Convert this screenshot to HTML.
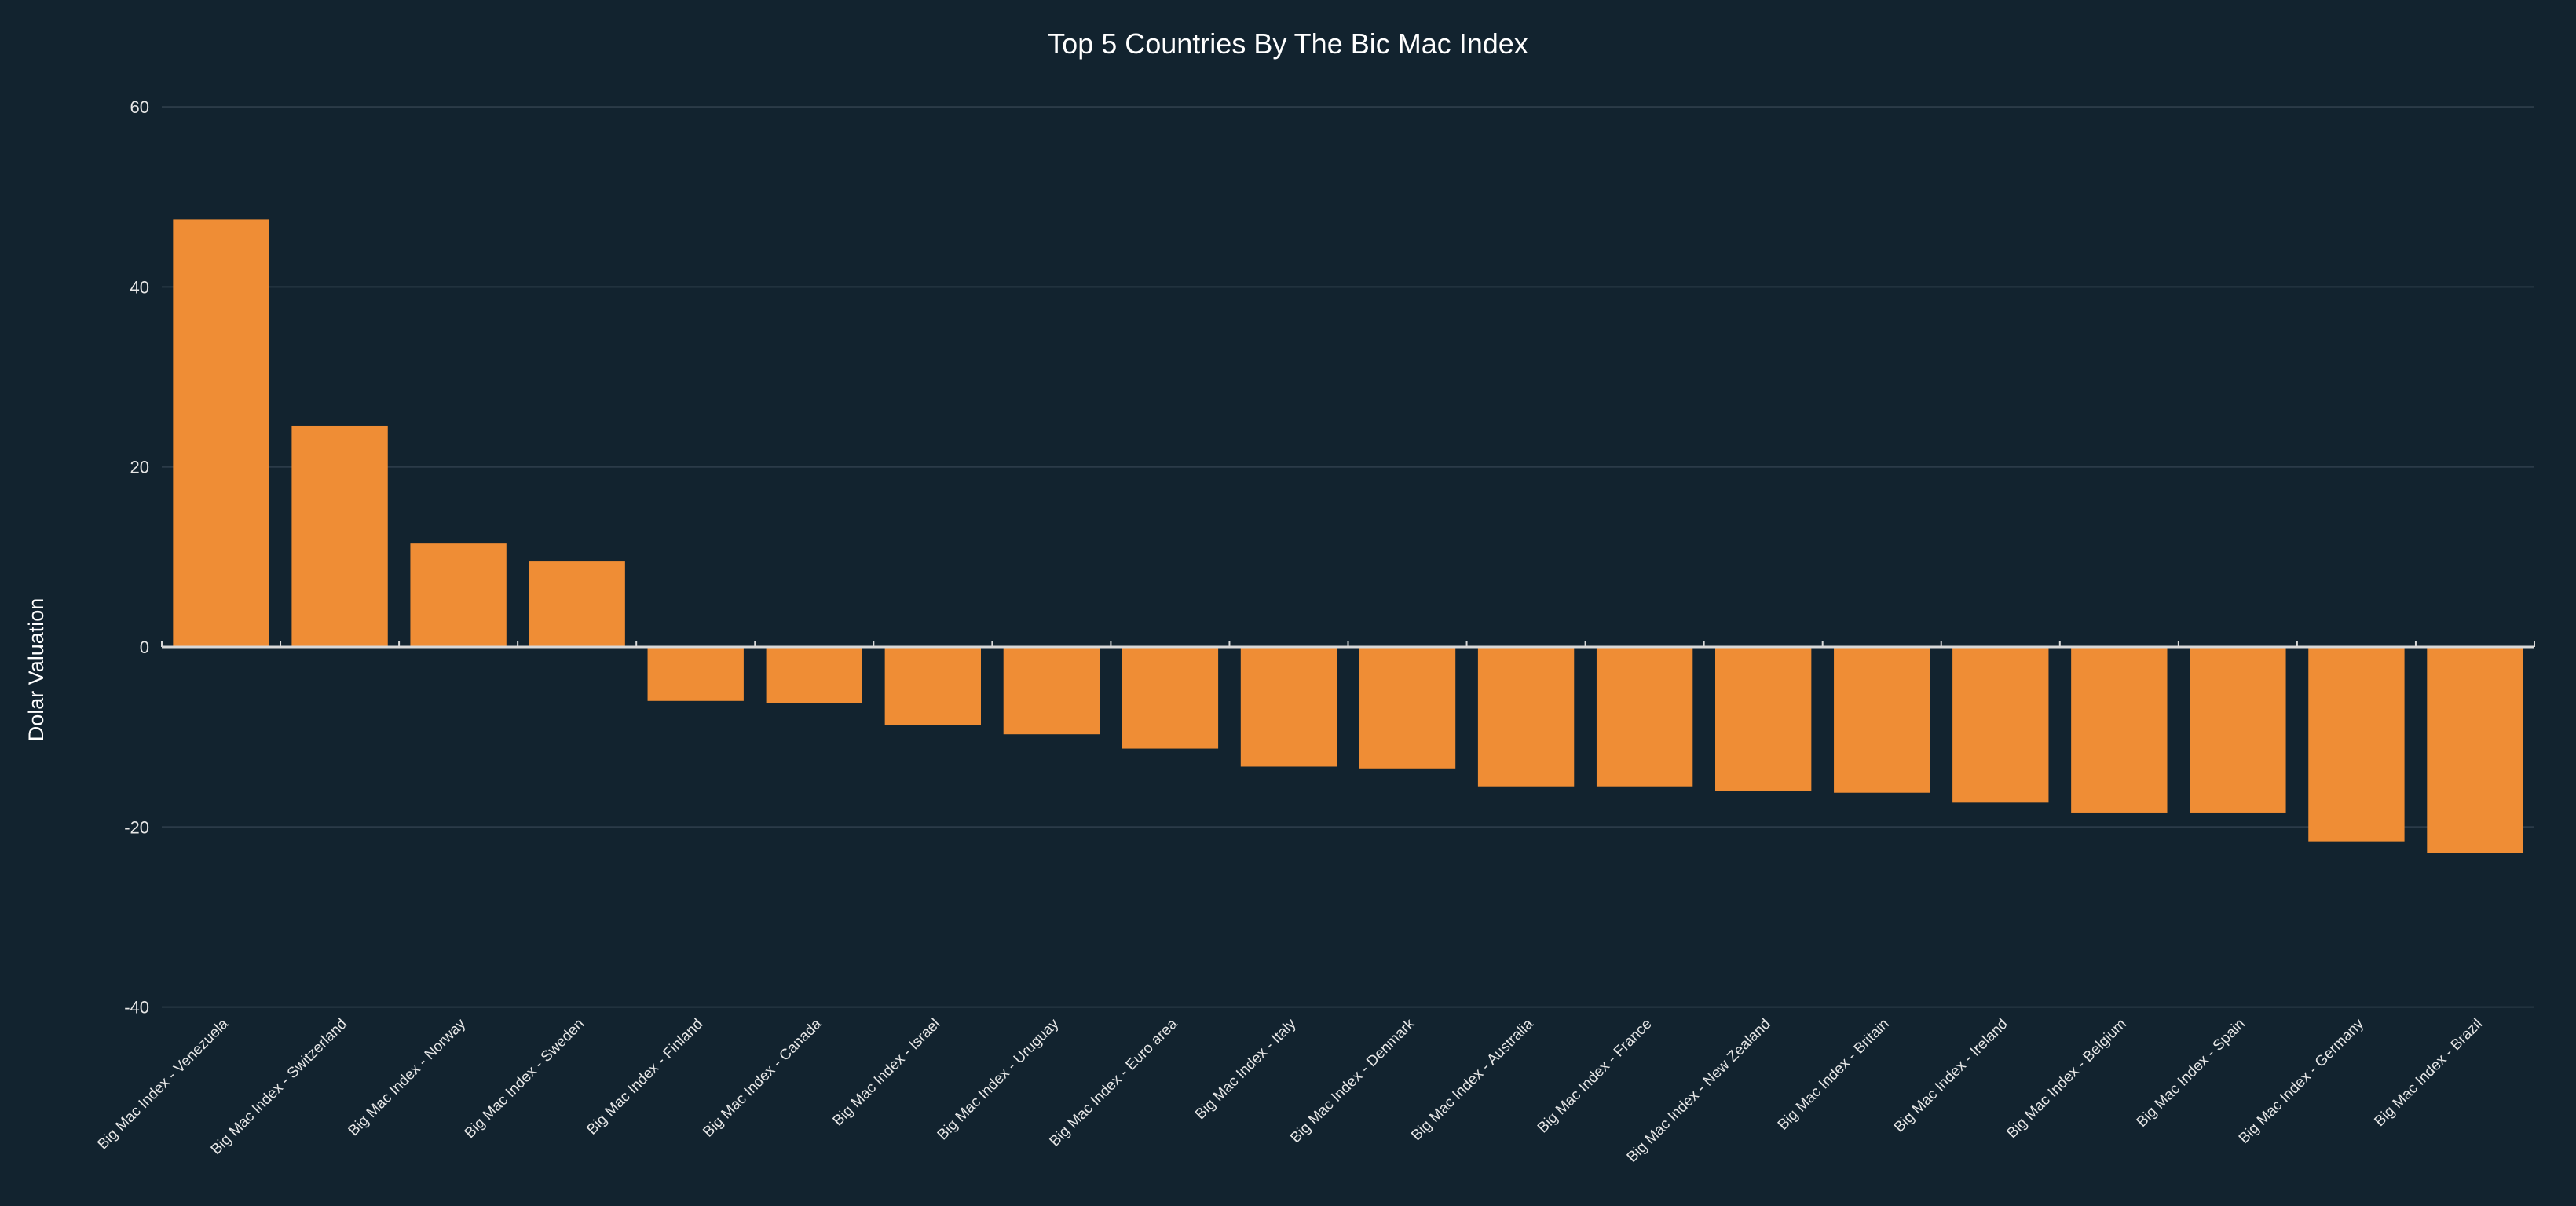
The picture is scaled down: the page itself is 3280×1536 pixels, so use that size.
<!DOCTYPE html>
<html><head><meta charset="utf-8"><style>
html,body{margin:0;padding:0;background:#12232f;}
svg{display:block;font-family:"Liberation Sans",sans-serif;}
</style></head><body>
<svg id="chart" width="3280" height="1536">
<rect width="3280" height="1536" fill="#12232f"/>
<text x="1640" y="68" text-anchor="middle" fill="#ffffff" font-size="36">Top 5 Countries By The Bic Mac Index</text>
<text transform="translate(55,853) rotate(-90)" text-anchor="middle" fill="#ffffff" font-size="27">Dolar Valuation</text>
<g id="grid"></g><g id="bars"></g><g id="axis"></g><g id="labels"></g>
</svg>
<script>
const categories = ["Venezuela","Switzerland","Norway","Sweden","Finland","Canada","Israel","Uruguay","Euro area","Italy","Denmark","Australia","France","New Zealand","Britain","Ireland","Belgium","Spain","Germany","Brazil"];
const values = [47.5,24.6,11.5,9.5,-6.0,-6.2,-8.7,-9.7,-11.3,-13.3,-13.5,-15.5,-15.5,-16.0,-16.2,-17.3,-18.4,-18.4,-21.6,-22.9];
const yTicks = [60,40,20,0,-20,-40];
const labelPrefix = "Big Mac Index - ";

const NS="http://www.w3.org/2000/svg";
const left=206, right=3227, zeroY=824, perUnit=229.3/20;
const band=(right-left)/categories.length, barW=band*0.81;
function y(v){return zeroY - v*perUnit;}
function x(i){return left + i*band;}
function mk(tag,attrs,parent){const e=document.createElementNS(NS,tag);for(const k in attrs)e.setAttribute(k,attrs[k]);document.getElementById(parent).appendChild(e);return e;}

yTicks.forEach(t=>{
  if(t!==0){
    const l=mk('line',{x1:left,x2:right,y1:y(t),y2:y(t),stroke:'#2b3b48','stroke-width':2},'grid');
    
    
  }
  const tx=mk('text',{x:190,y:y(t)+8,'text-anchor':'end',fill:'#e6e6e6','font-size':22},'grid');
  tx.textContent=t;
  
  
});

values.forEach((v,i)=>{
  const cx=x(i)+band/2;
  const top=Math.min(y(v),zeroY), h=Math.abs(y(v)-zeroY);
  const r=mk('rect',{x:cx-barW/2,y:top,width:barW,height:h,fill:'#ef8d35'},'bars');
  
  
  const lb=mk('text',{transform:`translate(${cx+10},1305) rotate(-45)`,'text-anchor':'end',fill:'#e6e6e6','font-size':19},'labels');
  lb.textContent=labelPrefix+categories[i];
  
  
});

const ax=mk('line',{x1:left,x2:right,y1:zeroY,y2:zeroY,stroke:'#d8d8d8','stroke-width':3},'axis');


for(let i=0;i<=categories.length;i++){
  const tk=mk('line',{x1:x(i),x2:x(i),y1:zeroY-8,y2:zeroY,stroke:'#d8d8d8','stroke-width':2},'axis');
  
  
}
</script>
</body></html>
